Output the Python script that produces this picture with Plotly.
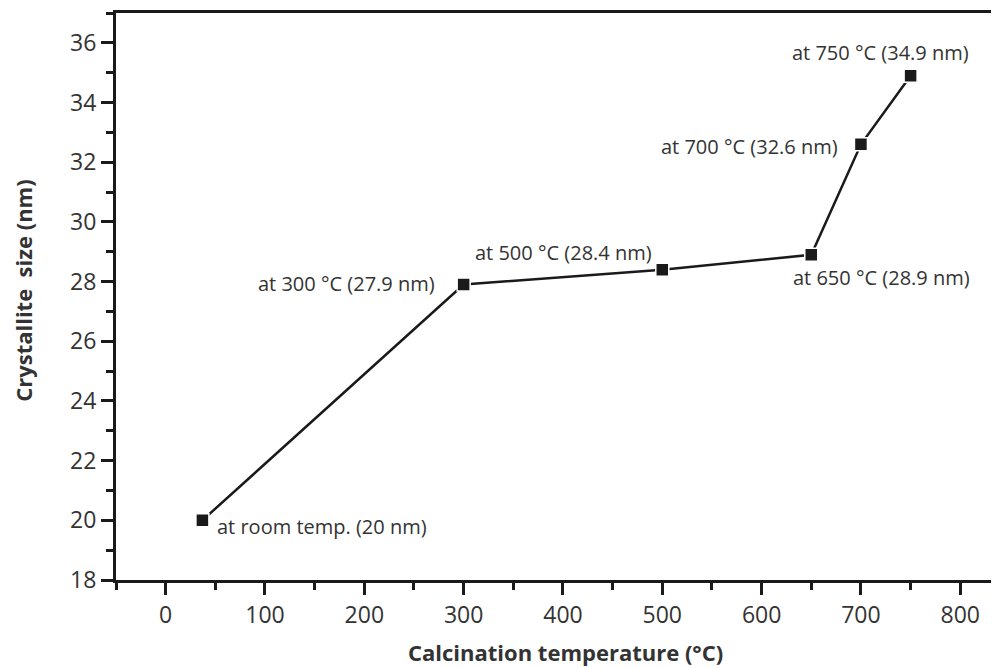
import plotly.graph_objects as go

temps = [37, 300, 500, 650, 700, 750]
sizes = [20.0, 27.9, 28.4, 28.9, 32.6, 34.9]
labels = ["at room temp. (20 nm)", "at 300 °C (27.9 nm)", "at 500 °C (28.4 nm)",
          "at 650 °C (28.9 nm)", "at 700 °C (32.6 nm)", "at 750 °C (34.9 nm)"]
# label placement: (xanchor, xshift, yshift)
placement = [("left", 13, -6), ("right", -27, 1), ("center", -99, 17),
             ("left", -20, -23), ("right", -21, -2), ("center", -30, 23)]

x_ticks = [0, 100, 200, 300, 400, 500, 600, 700, 800]
y_ticks = [18, 20, 22, 24, 26, 28, 30, 32, 34, 36]

FONT = "Open Sans"
TXT = "#333333"
INK = "#1a1a1a"

fig = go.Figure()
fig.add_trace(go.Scatter(
    x=temps, y=sizes, mode="lines+markers",
    line=dict(color=INK, width=2.5),
    marker=dict(symbol="square", size=13, color=INK, line=dict(color="white", width=1.5)),
    showlegend=False,
))

for (t, s, lab, (xa, xs, ys)) in zip(temps, sizes, labels, placement):
    fig.add_annotation(x=t, y=s, xref="x", yref="y", text=lab, showarrow=False,
                       xanchor=xa, yanchor="middle", xshift=xs, yshift=ys,
                       font=dict(family=FONT, size=20, color=TXT))

axis_common = dict(
    showline=True, linecolor=INK, linewidth=3,
    ticks="outside", ticklen=12, tickwidth=3, tickcolor=INK,
    showgrid=False, zeroline=False, automargin=False,
    tickfont=dict(family=FONT, size=23, color=TXT),
)

fig.update_xaxes(range=[-50, 839], tickvals=x_ticks, mirror=True,
                 minor=dict(ticks="outside", ticklen=7, tickwidth=3, tickcolor=INK, dtick=50, tick0=-50),
                 **axis_common)
fig.update_yaxes(range=[18, 37], tickvals=y_ticks, mirror=False,
                 minor=dict(ticks="outside", ticklen=7, tickwidth=3, tickcolor=INK, dtick=1, tick0=18),
                 **axis_common)

fig.add_annotation(xref="paper", yref="paper", x=0.5085, y=0, yanchor="middle", xanchor="center",
                   yshift=-72, showarrow=False, text="<b>Calcination temperature (°C)</b>",
                   font=dict(family=FONT, size=22, color=TXT))
fig.add_annotation(xref="paper", yref="paper", x=0, y=0.51, yanchor="middle", xanchor="center",
                   xshift=-93, showarrow=False, textangle=-90, text="<b>Crystallite  size (nm)</b>",
                   font=dict(family=FONT, size=22, color=TXT))

# page body has an 8px default margin, so the figure is sized to fit the 999x668 window
fig.update_layout(
    width=991, height=660,
    margin=dict(l=108, r=0, t=5, b=88),
    plot_bgcolor="white", paper_bgcolor="white",
)

fig.write_html("out.html")
